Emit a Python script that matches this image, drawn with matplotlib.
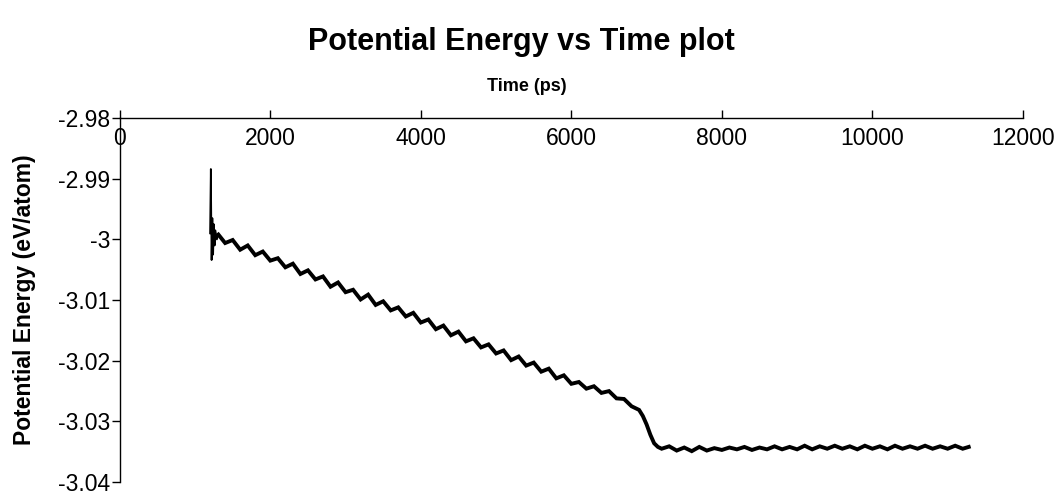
import matplotlib
matplotlib.use("Agg")
import matplotlib.pyplot as plt

plt.rcParams['font.family'] = ['Liberation Sans', 'DejaVu Sans']

# ---- data ----
time_ps = [1200, 1210, 1220, 1230, 1240, 1250, 1260, 1270, 1290, 1310,
           1400, 1500, 1600, 1700, 1800, 1900, 2000, 2100, 2200, 2300,
           2400, 2500, 2600, 2700, 2800, 2900, 3000, 3100, 3200, 3300,
           3400, 3500, 3600, 3700, 3800, 3900, 4000, 4100, 4200, 4300,
           4400, 4500, 4600, 4700, 4800, 4900, 5000, 5100, 5200, 5300,
           5400, 5500, 5600, 5700, 5800, 5900, 6000, 6100, 6200, 6300,
           6400, 6500, 6600, 6700, 6800, 6900, 6950, 7000, 7050, 7100,
           7150, 7200, 7300, 7400, 7500, 7600, 7700, 7800, 7900, 8000,
           8100, 8200, 8300, 8400, 8500, 8600, 8700, 8800, 8900, 9000,
           9100, 9200, 9300, 9400, 9500, 9600, 9700, 9800, 9900, 10000,
           10100, 10200, 10300, 10400, 10500, 10600, 10700, 10800, 10900, 11000,
           11100, 11200, 11280]
energy = [-2.9990, -2.9884, -3.0034, -2.9965, -3.0025, -2.9975, -3.0010, -2.9985, -3.0000, -2.9992,
          -3.0006, -3.0001, -3.0017, -3.0010, -3.0026, -3.0020, -3.0035, -3.0031, -3.0046, -3.0040,
          -3.0057, -3.0051, -3.0066, -3.0061, -3.0078, -3.0071, -3.0087, -3.0083, -3.0099, -3.0091,
          -3.0108, -3.0102, -3.0117, -3.0112, -3.0127, -3.0121, -3.0137, -3.0132, -3.0148, -3.0142,
          -3.0158, -3.0152, -3.0168, -3.0163, -3.0178, -3.0173, -3.0188, -3.0183, -3.0199, -3.0193,
          -3.0208, -3.0203, -3.0218, -3.0213, -3.0229, -3.0224, -3.0238, -3.0235, -3.0246, -3.0242,
          -3.0253, -3.0250, -3.0262, -3.0263, -3.0275, -3.0281, -3.0291, -3.0305, -3.0322, -3.0336,
          -3.0342, -3.0345, -3.0341, -3.0348, -3.0343, -3.0349, -3.0342, -3.0348, -3.0344, -3.0347,
          -3.0343, -3.0346, -3.0342, -3.0347, -3.0343, -3.0346, -3.0341, -3.0346, -3.0342, -3.0346,
          -3.0340, -3.0346, -3.0341, -3.0345, -3.0340, -3.0345, -3.0341, -3.0346, -3.0340, -3.0345,
          -3.0341, -3.0346, -3.0340, -3.0345, -3.0341, -3.0345, -3.0340, -3.0345, -3.0341, -3.0345,
          -3.0340, -3.0345, -3.0342]
n_spike = 10  # first points form the thin initial spike

x_ticks = [0, 2000, 4000, 6000, 8000, 10000, 12000]
x_tick_labels = ['0', '2000', '4000', '6000', '8000', '10000', '12000']
y_ticks = [-2.98, -2.99, -3.00, -3.01, -3.02, -3.03, -3.04]
y_tick_labels = ['-2.98', '-2.99', '-3', '-3.01', '-3.02', '-3.03', '-3.04']

title = 'Potential Energy vs Time plot'
x_label = 'Time (ps)'
y_label = 'Potential Energy (eV/atom)'

# ---- figure ----
fig = plt.figure(figsize=(10.6, 4.96), dpi=100)
ax = fig.add_axes([0.113, 0.028, 0.852, 0.734])

ax.plot(time_ps[:n_spike], energy[:n_spike], color='black', lw=1.3)
ax.plot(time_ps[n_spike - 1:], energy[n_spike - 1:], color='black', lw=2.8,
        solid_joinstyle='miter')

ax.set_xlim(0, 12000)
ax.set_ylim(-3.04, -2.98)

for s in ['right', 'bottom']:
    ax.spines[s].set_visible(False)
for s in ['top', 'left']:
    ax.spines[s].set_linewidth(1.0)

ax.set_xticks(x_ticks)
ax.set_xticklabels(x_tick_labels)
ax.set_yticks(y_ticks)
ax.set_yticklabels(y_tick_labels)

ax.tick_params(axis='x', which='both', top=True, bottom=False,
               labeltop=True, labelbottom=False, direction='out',
               length=6, width=1, labelsize=16.5, pad=-29)
ax.tick_params(axis='y', direction='out', length=6, width=1,
               labelsize=16.5, pad=1)

ax.xaxis.set_label_position('top')
ax.set_xlabel(x_label, fontsize=13, fontweight='bold')
ax.xaxis.set_label_coords(0.451, 1.075)
ax.set_ylabel(y_label, fontsize=16.5, fontweight='bold')
ax.yaxis.set_label_coords(-0.093, 0.5)

fig.text(0.492, 0.915, title, ha='center', va='center',
         fontsize=22, fontweight='bold')

fig.savefig('out.png', dpi=100)
